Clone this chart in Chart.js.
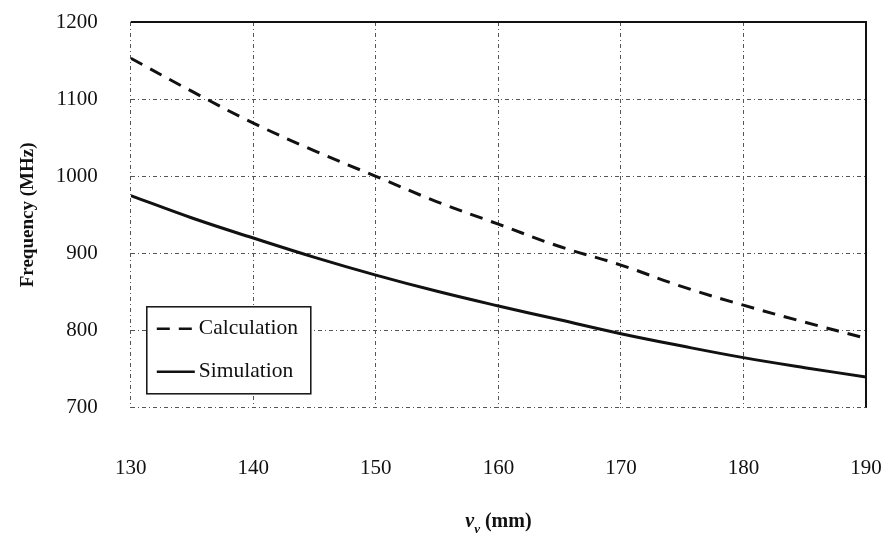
<!DOCTYPE html>
<html>
<head>
<meta charset="utf-8">
<script src="https://cdn.jsdelivr.net/npm/chart.js@4.4.1/dist/chart.umd.min.js"></script>
<style>
  body { margin: 0; background: #fff; }
</style>
</head>
<body>
<canvas id="myChart" width="885" height="545"></canvas>
<script>
// values
var lengths = [130, 135, 140, 145, 150, 155, 160, 165, 170, 175, 180, 185, 190]
var calculation = [1153, 1110, 1069, 1033, 1000, 967, 938, 909, 885, 857, 833, 811, 790]
var simulation = [975, 946, 920, 895, 872, 851, 832, 814, 796, 780, 765, 752, 740]
var seriesNames = ['Calculation', 'Simulation']
var xTitle = ['v', 'v', ' (mm)']
var yTitle = 'Frequency (MHz)'

var serif = '"Liberation Serif", "DejaVu Serif", serif'
var gridDash = [4, 3, 1, 3]

// solid top/right frame, axis title with subscript and the boxed legend
var extras = {
    id: 'extras',
    afterDraw: function(chart){
        var ctx = chart.ctx
        var a = chart.chartArea
        ctx.save()
        ctx.strokeStyle = '#111'
        ctx.lineWidth = 2
        ctx.beginPath()
        ctx.moveTo(a.left, a.top)
        ctx.lineTo(a.right, a.top)
        ctx.lineTo(a.right, a.bottom)
        ctx.stroke()

        // x title: bold italic v with subscript v, then (mm)
        var cx = (a.left + a.right) / 2
        var ty = 527
        ctx.fillStyle = '#111'
        ctx.textBaseline = 'alphabetic'
        ctx.font = 'italic bold 20px ' + serif
        var w1 = ctx.measureText(xTitle[0]).width
        ctx.font = 'italic bold 13px ' + serif
        var w2 = ctx.measureText(xTitle[1]).width
        ctx.font = 'bold 20px ' + serif
        var w3 = ctx.measureText(xTitle[2]).width
        var x0 = cx - (w1 + w2 + w3) / 2
        ctx.font = 'italic bold 20px ' + serif
        ctx.fillText(xTitle[0], x0, ty)
        ctx.font = 'italic bold 13px ' + serif
        ctx.fillText(xTitle[1], x0 + w1, ty + 6)
        ctx.font = 'bold 20px ' + serif
        ctx.fillText(xTitle[2], x0 + w1 + w2, ty)

        // legend box
        var bx = a.left + 16, by = a.bottom - 101, bw = 164, bh = 87
        ctx.fillStyle = '#fff'
        ctx.fillRect(bx, by, bw, bh)
        ctx.lineWidth = 1.5
        ctx.strokeRect(bx, by, bw, bh)
        var sets = chart.data.datasets
        for (var i = 0; i < sets.length; i++) {
            var ly = by + 22 + i * 43
            ctx.strokeStyle = '#111'
            ctx.lineWidth = 2.5
            ctx.setLineDash(sets[i].borderDash || [])
            ctx.beginPath()
            ctx.moveTo(bx + 10, ly)
            ctx.lineTo(bx + 48, ly)
            ctx.stroke()
            ctx.setLineDash([])
            ctx.fillStyle = '#111'
            ctx.font = '21.5px ' + serif
            ctx.textBaseline = 'middle'
            ctx.fillText(sets[i].label, bx + 52, ly)
        }
        ctx.restore()
    }
}

var ctx = document.getElementById('myChart').getContext('2d')
var myChart = new Chart(ctx, {
    type: 'line',
    data: {
        labels: lengths,
        datasets: [{
            label: seriesNames[0],
            data: calculation,
            borderColor: '#111',
            borderWidth: 3,
            borderDash: [13, 9],
            pointRadius: 0,
            tension: 0.4,
            fill: false
        }, {
            label: seriesNames[1],
            data: simulation,
            borderColor: '#111',
            borderWidth: 3,
            pointRadius: 0,
            tension: 0.4,
            fill: false
        }]
    },
    plugins: [extras],
    options: {
        responsive: false,
        animation: false,
        layout: { padding: { left: 13, right: 19, top: 22, bottom: 62 } },
        plugins: {
            legend: { display: false },
            tooltip: { enabled: false }
        },
        scales: {
            x: {
                type: 'linear',
                min: 130,
                max: 190,
                border: { display: false, dash: gridDash },
                // invisible tick marks push the labels down without widening the padding
                grid: { color: '#555', lineWidth: 1, drawTicks: true, tickLength: 46, tickColor: 'rgba(0,0,0,0)' },
                ticks: {
                    stepSize: 10,
                    padding: 2,
                    color: '#111',
                    font: { family: serif, size: 21 },
                    callback: function(v){ return String(v) }
                }
            },
            y: {
                min: 700,
                max: 1200,
                border: { display: false, dash: gridDash },
                grid: { color: '#555', lineWidth: 1, drawTicks: true, tickLength: 31, tickColor: 'rgba(0,0,0,0)' },
                ticks: {
                    stepSize: 100,
                    padding: 2,
                    color: '#111',
                    font: { family: serif, size: 21 },
                    callback: function(v){ return String(v) }
                },
                title: {
                    display: true,
                    text: yTitle,
                    color: '#111',
                    font: { family: serif, size: 19, weight: 'bold' },
                    padding: { top: 4, bottom: 14 }
                }
            }
        }
    }
})
</script>
</body>
</html>
